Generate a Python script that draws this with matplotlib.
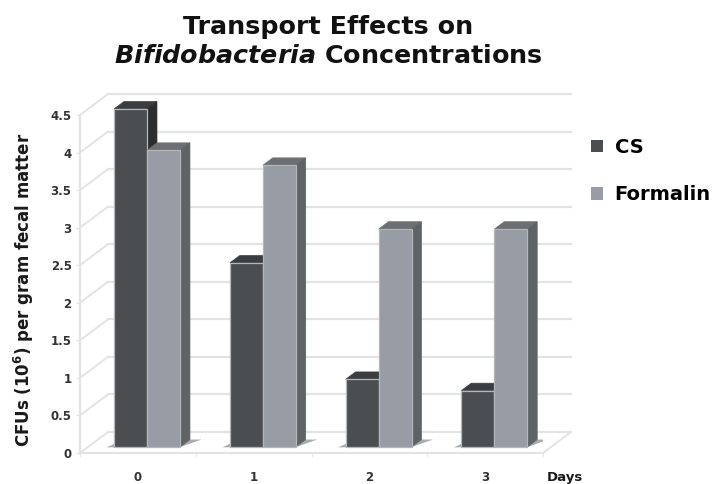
import matplotlib
matplotlib.use('Agg')
import matplotlib.pyplot as plt
from matplotlib.patches import Patch, Polygon

# values
days = ['0', '1', '2', '3']
cs = [4.5, 2.45, 0.9, 0.75]
formalin = [3.95, 3.75, 2.9, 2.9]
y_ticks = [0, 0.5, 1, 1.5, 2, 2.5, 3, 3.5, 4, 4.5]
y_labels = ['0', '0.5', '1', '1.5', '2', '2.5', '3', '3.5', '4', '4.5']

W, H = 713, 484
GRID = '#e2e4e4'
DX, DY = 0.242, 0.28   # shift of the chart depth, in data units
BAR_W = 0.285
D0, D1 = 0.29, 0.64    # bar depth range


def proj(x, v, d):
    return (x + DX * d, v + DY * d)


def bar3d(ax, x, v, front, side, top):
    x1 = x + BAR_W
    f = [proj(x, 0, D0), proj(x1, 0, D0), proj(x1, v, D0), proj(x, v, D0)]
    s = [proj(x1, 0, D0), proj(x1, 0, D1), proj(x1, v, D1), proj(x1, v, D0)]
    t = [proj(x, v, D0), proj(x1, v, D0), proj(x1, v, D1), proj(x, v, D1)]
    ax.add_patch(Polygon(t, fc=top, ec=top, lw=0.5, zorder=3, clip_on=False))
    ax.add_patch(Polygon(s, fc=side, ec=side, lw=0.5, zorder=3, clip_on=False))
    ax.add_patch(Polygon(f, fc=front, ec='#b4b7b9', lw=0.9, zorder=3, clip_on=False))


fig = plt.figure(figsize=(W / 100, H / 100), dpi=100)
ax = fig.add_axes([80 / W, (H - 453) / H, 463 / W, 338 / H])
ax.set_xlim(0, 4)
ax.set_ylim(0, 4.5)

# walls
for v in y_ticks:
    ax.plot([0, DX], [v, v + DY], color=GRID, lw=1.4, clip_on=False, zorder=1)
    ax.plot([DX, 4 + DX], [v + DY, v + DY], color=GRID, lw=1.6, clip_on=False, zorder=1)
ax.plot([4, 4 + DX], [0, DY], color=GRID, lw=1.4, clip_on=False, zorder=1)

# floor shadows and bars
for i in range(len(days)):
    x = i + 0.225
    x2 = x + 2 * BAR_W
    sh = [proj(x - 0.06, 0, D0 - 0.02), proj(x2, 0, D0 - 0.02),
          proj(x2 + 0.1, 0, D1), proj(x2, 0, D1), proj(x, 0, D1)]
    ax.add_patch(Polygon(sh, fc='#a9acac', ec='none', zorder=2))
    bar3d(ax, x, cs[i], '#4a4e51', '#2b2d2f', '#3b3e40')
    bar3d(ax, x + BAR_W, formalin[i], '#979ca5', '#5e6366', '#6c7073')

for name in ['top', 'right']:
    ax.spines[name].set_visible(False)
for name in ['left', 'bottom']:
    ax.spines[name].set_color(GRID)
    ax.spines[name].set_linewidth(1.6)

ax.set_yticks(y_ticks, y_labels, fontsize=8.5, fontweight='bold', color='#333333')
ax.tick_params(axis='y', length=3, color=GRID, pad=3)
ax.set_xticks([0.5, 1.5, 2.5, 3.5], days, fontsize=8.5, fontweight='bold', color='#333333')
ax.set_xticks([0, 1, 2, 3, 4], minor=True)
ax.tick_params(axis='x', which='major', length=0, pad=13)
ax.tick_params(axis='x', which='minor', length=3, color=GRID)

fig.text(24 / W, 1 - 290 / H, r'CFUs (10$^{\mathbf{6}}$) per gram fecal matter', rotation=90,
         ha='center', va='center', fontsize=12, fontweight='bold', color='#1a1a1a')
fig.text(565 / W, 1 - 477 / H, 'Days', ha='center', va='center', fontsize=9.5,
         fontweight='bold', color='#1a1a1a')

fig.text(328 / W, 1 - 27 / H, 'Transport Effects on', ha='center', va='center',
         fontsize=18.3, fontweight='bold', color='#111111')
fig.text(328 / W, 1 - 56 / H, r'$\mathbfit{Bifidobacteria}$ Concentrations', ha='center',
         va='center', fontsize=18.3, fontweight='bold', color='#111111',
         math_fontfamily='dejavusans')

handles = [Patch(fc='#4a4e51', ec='none', label='CS'),
           Patch(fc='#979ca5', ec='none', label='Formalin')]
fig.legend(handles=handles, loc='upper left', bbox_to_anchor=(591 / W, 1 - 138 / H),
           frameon=False, handlelength=0.62, handleheight=0.62, handletextpad=0.6,
           labelspacing=1.45, borderpad=0, borderaxespad=0,
           prop={'size': 14, 'weight': 'bold'})

fig.savefig('out.png', dpi=100)
